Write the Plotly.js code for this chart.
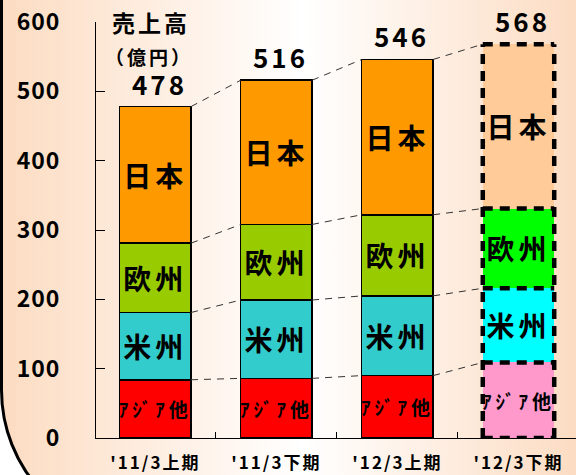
<!DOCTYPE html>
<html><head><meta charset="utf-8">
<script src="https://cdn.plot.ly/plotly-3.0.1.min.js"></script>
<style>
html,body{margin:0;padding:0;background:#fff;overflow:hidden;width:576px;height:475px}
#bg{position:absolute;left:0;top:-300px;width:900px;height:840px;box-sizing:border-box;border:3px solid #000;border-radius:150px;background:linear-gradient(to right,#fcdcc2 0px,#ffffff 300px,#fcdcc2 576px)}
#chart{position:absolute;left:0;top:0;width:576px;height:475px}
.bartext{letter-spacing:4px}
.xtick text{letter-spacing:2px}
.ytick text{letter-spacing:1px}
.annotation-text{letter-spacing:3px}
</style></head>
<body>
<div id="bg"></div>
<div id="chart"></div>
<script>
// ---- data ----
const categories = ["'11/3上期", "'11/3下期", "'12/3上期", "'12/3下期"];
const regionNames = ["ｱｼﾞｱ他", "米州", "欧州", "日本"];
const asia    = [84, 86, 90, 109];
const america = [97, 113, 115, 107];
const europe  = [100, 109, 117, 115];
const japan   = [197, 208, 224, 237];
const yTicks = [0, 100, 200, 300, 400, 500, 600];
const titleLine1 = "売上高";
const titleLine2 = "（億円）";

// ---- styles ----
const FONT = "Noto Sans CJK JP";
const colorsActual = ["#FF0000", "#33CCCC", "#99CC00", "#FF9900"];
const colorsForecast = ["#FF99CC", "#00FFFF", "#00FF00", "#FFCC99"];
const labelSizes = [19, 28, 28, 28];
const bargap = 0.41;
const bw = 1 - bargap;

const series = [asia, america, europe, japan];
const n = categories.length;
const totals = categories.map((_, i) => series.reduce((s, a) => s + a[i], 0));

const traces = [];
series.forEach((vals, k) => {
  traces.push({
    type: "bar",
    x: categories,
    y: vals,
    text: vals.map(() => regionNames[k]),
    textposition: "inside",
    insidetextanchor: "middle",
    textangle: 0,
    constraintext: "none",
    textfont: {family: FONT, size: labelSizes[k], color: "#000", weight: "bold"},
    marker: {
      color: vals.map((_, i) => i === n - 1 ? colorsForecast[k] : colorsActual[k]),
      line: {color: "#000", width: vals.map((_, i) => i === n - 1 ? 0 : 1.5)}
    },
    hoverinfo: "skip",
    showlegend: false
  });
});

// connector dashed lines between boundaries
const cumLevels = [];
let running = categories.map(() => 0);
series.forEach(vals => {
  running = running.map((r, i) => r + vals[i]);
  cumLevels.push(running.slice());
});
const cx = [], cy = [];
cumLevels.forEach(level => {
  for (let i = 0; i < n - 1; i++) {
    cx.push(i + bw / 2, i + 1 - bw / 2, null);
    cy.push(level[i], level[i + 1], null);
  }
});
traces.push({
  type: "scatter", mode: "lines", x: cx, y: cy,
  xaxis: "x2",
  line: {color: "#333", width: 1, dash: "7px,6px"},
  hoverinfo: "skip", showlegend: false
});

// dashed outline of the forecast bar (each edge drawn once)
const dashLine = {color: "#000", width: 4.5, dash: "10px,7px"};
const fx0 = (n - 1) - bw / 2, fx1 = (n - 1) + bw / 2;
const fTop = totals[n - 1];
const shapes = [
  {type: "line", xref: "x2", yref: "y", x0: fx0, x1: fx0, y0: 0, y1: fTop, line: dashLine},
  {type: "line", xref: "x2", yref: "y", x0: fx1, x1: fx1, y0: 0, y1: fTop, line: dashLine},
  {type: "line", xref: "x2", yref: "y", x0: fx0, x1: fx1, y0: 0, y1: 0, line: dashLine}
];
cumLevels.forEach(level => {
  shapes.push({type: "line", xref: "x2", yref: "y", x0: fx0, x1: fx1,
    y0: level[n - 1], y1: level[n - 1], line: dashLine});
});

// total labels
const annotations = totals.map((t, i) => ({
  x: categories[i], y: t, xref: "x", yref: "y",
  text: String(t), showarrow: false, yanchor: "bottom", yshift: 3, xshift: 4,
  font: {family: FONT, size: 26, color: "#000", weight: "bold"}
}));
annotations.push({
  x: 151, y: 22, xref: "paper", yref: "paper", text: titleLine1, showarrow: false,
  xanchor: "center", yanchor: "middle",
  font: {family: FONT, size: 23, color: "#000", weight: "bold"}
});
annotations.push({
  x: 149, y: 56, xref: "paper", yref: "paper", text: titleLine2, showarrow: false,
  xanchor: "center", yanchor: "middle",
  font: {family: FONT, size: 19, color: "#000", weight: "bold"}
});

const W = 576, H = 475, L = 96, R = 0, T = 22, B = 37;
const pw = W - L - R, ph = H - T - B;
// convert pixel positions for title annotations to paper coords
annotations.slice(-2).forEach(a => {
  a.x = (a.x - L) / pw;
  a.y = (H - B - a.y) / ph;
});

const xr = [-0.49, 3.475];
const layout = {
  width: W, height: H,
  margin: {l: L, r: R, t: T, b: B, pad: 0},
  paper_bgcolor: "rgba(0,0,0,0)",
  plot_bgcolor: "rgba(0,0,0,0)",
  barmode: "stack",
  bargap: bargap,
  xaxis: {
    type: "category", range: xr,
    showline: true, linecolor: "#000", linewidth: 1,
    ticks: "inside", tickson: "boundaries", ticklen: 6, tickcolor: "#000",
    ticklabelstandoff: 10,
    tickfont: {family: FONT, size: 17, color: "#000", weight: "bold"},
    showgrid: false, zeroline: false, fixedrange: true
  },
  xaxis2: {
    overlaying: "x", range: [xr[0], xr[1]], visible: false, fixedrange: true
  },
  yaxis: {
    range: [0, 600], tickvals: yTicks,
    showline: true, linecolor: "#000", linewidth: 1,
    ticks: "inside", ticklen: 9, tickcolor: "#000",
    ticklabelstandoff: 30,
    tickfont: {family: FONT, size: 23, color: "#000", weight: "bold"},
    showgrid: false, zeroline: false, fixedrange: true
  },
  shapes: shapes,
  annotations: annotations,
  showlegend: false
};

Plotly.newPlot("chart", traces, layout, {displayModeBar: false, staticPlot: true});
</script>
</body></html>
